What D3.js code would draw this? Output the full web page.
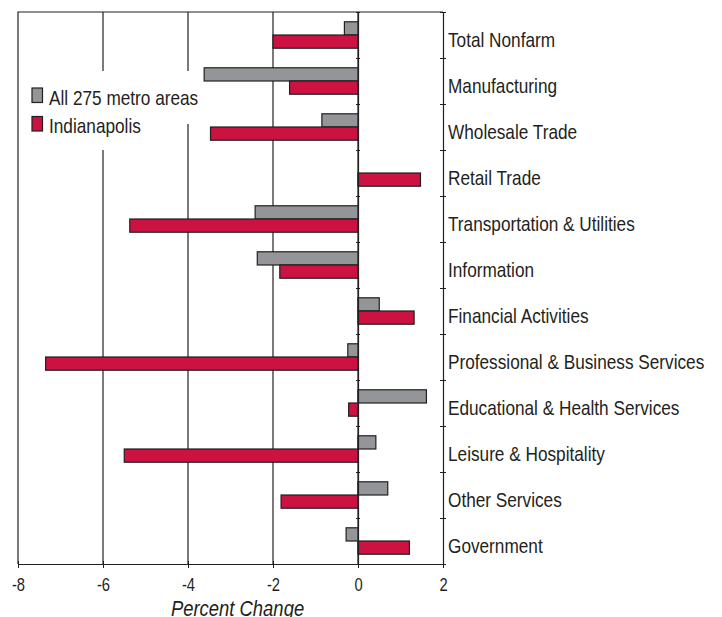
<!DOCTYPE html>
<html>
<head>
<meta charset="utf-8">
<script src="https://cdn.jsdelivr.net/npm/d3@7"></script>
<style>
    body { margin: 0; background: #fff; }
    svg { display: block; font-family: 'Liberation Sans', Arial, sans-serif; }
</style>
</head>
<body>
<div id="chart"></div>
<script>
// chart data
const categories = [
    "Total Nonfarm", "Manufacturing", "Wholesale Trade", "Retail Trade",
    "Transportation & Utilities", "Information", "Financial Activities",
    "Professional & Business Services", "Educational & Health Services",
    "Leisure & Hospitality", "Other Services", "Government"
];
const seriesNames = ["All 275 metro areas", "Indianapolis"];
const metroValues = [-0.32, -3.62, -0.85, 0, -2.42, -2.37, 0.50, -0.24, 1.61, 0.42, 0.70, -0.28];
const indyValues = [-2.0, -1.61, -3.47, 1.47, -5.37, -1.84, 1.32, -7.35, -0.22, -5.50, -1.81, 1.21];
const xTicks = [-8, -6, -4, -2, 0, 2];
const xAxisLabel = "Percent Change";

// chart size
const width = 722;
const height = 617;
const margin = {top: 12, right: 279, bottom: 53, left: 18};
const colors = ["#939598", "#cb1240"];
const ink = "#231f20";
// no narrow font installed, so squeeze the regular one
const narrow = 0.82;

const svg = d3.select("#chart").append("svg")
    .attr("width", width)
    .attr("height", height);

const xScale = d3.scaleLinear()
    .domain([-8, 2])
    .range([margin.left, width - margin.right]);

const yScale = d3.scaleBand()
    .domain(categories)
    .range([margin.top, height - margin.bottom]);

// two bars inside every category band
const ySub = d3.scaleBand()
    .domain([0, 1])
    .range([0, yScale.bandwidth()])
    .paddingOuter(0.74);

const plotTop = margin.top;
const plotBottom = height - margin.bottom;

function place(x, y) {
    return "translate(" + x + "," + y + ") scale(" + narrow + ",1)";
}

// gridlines
svg.append("g").selectAll("line").data(xTicks.slice(1, -1)).enter()
    .append("line")
        .attr("x1", function(d){ return xScale(d); })
        .attr("x2", function(d){ return xScale(d); })
        .attr("y1", plotTop)
        .attr("y2", plotBottom)
        .attr("stroke", ink)
        .attr("stroke-width", 1.2);

// frame top and left
svg.append("path")
    .attr("d", "M" + xScale(2) + "," + plotTop + "H" + xScale(-8) + "V" + plotBottom)
    .attr("fill", "none")
    .attr("stroke", ink)
    .attr("stroke-width", 1.2);

// legend backgrounds, these cut the gridlines
svg.append("rect").attr("x", 20).attr("y", 71).attr("width", 185).attr("height", 53).attr("fill", "#fff");
svg.append("rect").attr("x", 20).attr("y", 71).attr("width", 130).attr("height", 79).attr("fill", "#fff");

const legend = svg.append("g").selectAll("g").data(seriesNames).enter()
    .append("g")
        .attr("transform", function(d, i){ return "translate(32," + (88 + i * 28.5) + ")"; });

legend.append("rect")
    .attr("width", 10.5)
    .attr("height", 14.5)
    .attr("fill", function(d, i){ return colors[i]; })
    .attr("stroke", ink)
    .attr("stroke-width", 1.2);

legend.append("text")
    .attr("transform", place(17, 16.5))
    .attr("font-size", "21px")
    .attr("fill", ink)
    .text(function(d){ return d; });

// bars
const series = [metroValues, indyValues];
series.forEach(function(values, s) {
    svg.append("g").selectAll("rect").data(values.map(function(v, i){ return [categories[i], v]; })
            .filter(function(d){ return d[1] !== 0; })).enter()
        .append("rect")
            .attr("x", function(d){ return xScale(Math.min(0, d[1])); })
            .attr("y", function(d){ return yScale(d[0]) + ySub(s); })
            .attr("width", function(d){ return Math.abs(xScale(d[1]) - xScale(0)); })
            .attr("height", ySub.bandwidth())
            .attr("fill", colors[s])
            .attr("stroke", ink)
            .attr("stroke-width", 1.2);
});

// band edges for the small ticks
const edgeScale = d3.scalePoint().domain(d3.range(categories.length + 1)).range([plotTop, plotBottom]);

// zero line with small ticks at band edges
svg.append("g")
    .attr("transform", "translate(" + xScale(0) + ",0)")
    .call(d3.axisRight(edgeScale).tickSize(2).tickSizeOuter(0).tickFormat(""))
    .call(function(g){
        g.selectAll("line").attr("x1", -2).attr("stroke", ink);
        g.select(".domain").attr("stroke", ink).attr("stroke-width", 1.2);
    });

// right axis with category labels
svg.append("g")
    .attr("transform", "translate(" + xScale(2) + ",0)")
    .call(d3.axisRight(edgeScale).tickSize(3).tickSizeOuter(0).tickFormat(""))
    .call(function(g){
        g.selectAll("line").attr("x1", -3).attr("stroke", ink);
        g.select(".domain").attr("stroke", ink).attr("stroke-width", 1.2);
    });

svg.append("g").selectAll("text").data(categories).enter()
    .append("text")
        .attr("transform", function(d){ return place(xScale(2) + 5, yScale(d) + yScale.bandwidth() / 2 + 12); })
        .attr("font-size", "21px")
        .attr("fill", ink)
        .text(function(d){ return d; });

// bottom axis, plain hyphen for minus like the original
const xAxis = d3.axisBottom(xScale)
    .tickValues(xTicks)
    .tickFormat(function(d){ return String(d); })
    .tickSize(4)
    .tickPadding(10)
    .tickSizeOuter(0);

svg.append("g")
    .attr("transform", "translate(0," + plotBottom + ")")
    .call(xAxis)
    .call(function(g){
        g.attr("font-family", null);
        g.select(".domain").attr("stroke", ink).attr("stroke-width", 1.2);
        g.selectAll(".tick line").attr("stroke", ink).attr("y1", -3);
        g.selectAll(".tick text")
            .attr("font-size", "18px")
            .attr("fill", ink)
            .attr("transform", "scale(" + narrow + ",1)");
    });

svg.append("text")
    .attr("transform", place(237.5, 616))
    .attr("text-anchor", "middle")
    .attr("font-size", "22.5px")
    .attr("font-style", "italic")
    .attr("fill", ink)
    .text(xAxisLabel);
</script>
</body>
</html>
